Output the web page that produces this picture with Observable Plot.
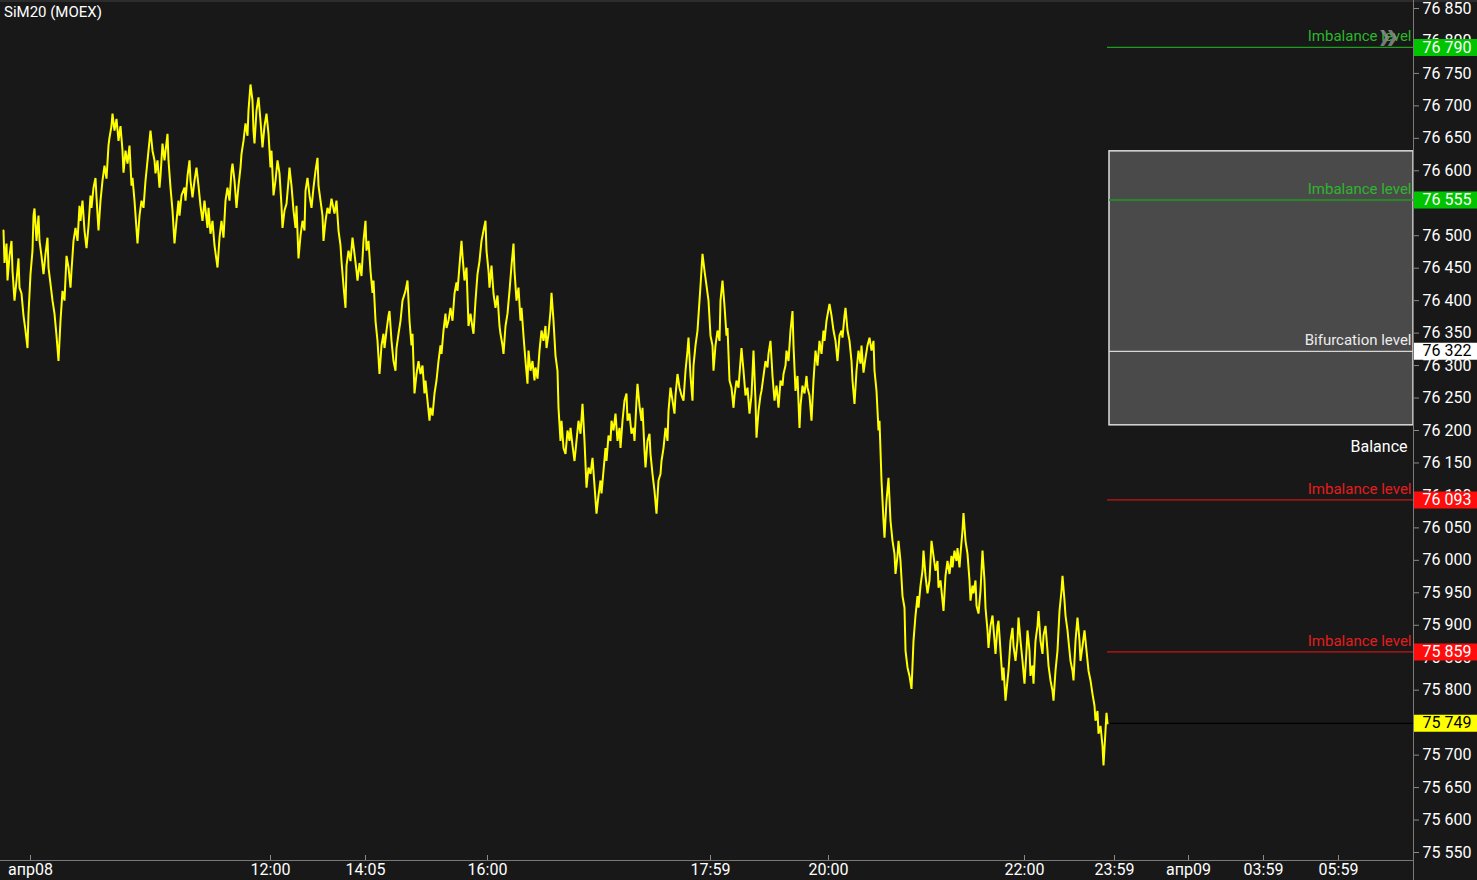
<!DOCTYPE html>
<html>
<head>
<meta charset="utf-8">
<script src="https://cdn.jsdelivr.net/npm/d3@7"></script>
<script src="https://cdn.jsdelivr.net/npm/@observablehq/plot@0.6"></script>
<style>
html, body { margin: 0; padding: 0; background: #181818; }
#wrap { position: relative; width: 1477px; height: 880px; overflow: hidden; background: #181818; font-family: Roboto, sans-serif; }
#title { position: absolute; left: 4px; top: 3px; color: #fff; font-size: 15px; font-family: Roboto, sans-serif; }
.topline { position: absolute; left: 0; top: 0; width: 1477px; height: 2px; background: #2c2c2c; }
.vline { position: absolute; left: 1413px; top: 0; width: 1px; height: 880px; background: #7a7a7a; }
.hline { position: absolute; left: 0; top: 860px; width: 1413px; height: 1px; background: #7a7a7a; }
</style>
</head>
<body>
<div id="wrap"><div id="chart"></div><div class="topline"></div><div class="vline"></div><div class="hline"></div><div id="title">SiM20 (MOEX)</div></div>
<script>
// ---- Data ----
const instrument = "SiM20 (MOEX)";

// price series: [bar index, price]
const priceSeries = [
[3,76508],[4,76458],[6,76488],[7,76431],[9,76469],[11,76492],[12,76446],[14,76400],[16,76431],[18,76465],[19,76420],[21,76411],[23,76377],[25,76354],[27,76327],[28,76380],[30,76441],[32,76477],[33,76531],[34,76542],[36,76492],[38,76531],[39,76492],[41,76469],[43,76441],[45,76472],[47,76497],[48,76451],[50,76426],[52,76400],[54,76380],[56,76346],[58,76307],[60,76369],[62,76415],[64,76400],[66,76469],[68,76451],[70,76420],[71,76446],[73,76492],[75,76512],[77,76492],[79,76546],[80,76523],[82,76554],[84,76508],[86,76481],[88,76515],[90,76562],[91,76543],[93,76574],[95,76589],[96,76559],[98,76508],[100,76554],[102,76585],[104,76608],[106,76588],[108,76639],[109,76651],[111,76669],[112,76688],
[114,76662],[116,76680],[118,76646],[120,76669],[122,76631],[123,76597],[125,76631],[127,76611],[129,76639],[131,76577],[132,76589],[134,76554],[137,76488],[139,76531],[141,76554],[143,76543],[145,76585],[146,76600],[148,76631],[150,76662],[152,76631],[154,76616],[155,76596],[157,76616],[159,76574],[160,76592],[162,76642],[164,76616],[167,76657],[168,76616],[170,76574],[172,76539],[174,76488],[176,76523],[178,76554],[179,76531],[181,76562],[184,76574],[185,76554],[187,76592],[189,76616],[190,76585],[192,76559],[194,76585],[196,76605],[198,76577],[200,76546],[202,76523],[204,76554],[207,76512],[208,76543],[210,76503],[212,76523],[214,76485],[217,76451],[219,76497],[221,76523],[223,76497],[225,76554],[227,76574],[229,76554],[231,76600],[232,76611],[234,76585],[236,76543],[238,76577],[240,76605],[241,76626],[243,76646],[245,76673],[247,76654],[248,76693],[250,76733],
[252,76708],[253,76662],[254,76642],[256,76693],[258,76713],[260,76677],[262,76636],[264,76669],[266,76688],[268,76657],[270,76605],[271,76631],[273,76562],[275,76585],[277,76616],[279,76596],[281,76546],[282,76512],[284,76539],[286,76549],[288,76585],[289,76605],[291,76577],[293,76539],[295,76512],[296,76546],[298,76465],[300,76500],[302,76523],[304,76508],[305,76569],[307,76589],[309,76562],[311,76543],[313,76574],[315,76600],[317,76620],[318,76577],[320,76554],[322,76531],[323,76492],[325,76523],[327,76543],[329,76534],[331,76557],[334,76534],[336,76554],[338,76508],[340,76485],[341,76461],[343,76423],[345,76389],[346,76454],[348,76477],[350,76461],[352,76497],[354,76472],[356,76446],[357,76431],[359,76458],[361,76438],[363,76492],[365,76523],[366,76477],[368,76492],[370,76446],[372,76412],[373,76431],[375,76369],[377,76338],[379,76287],[381,76331],[383,76349],[384,76327],[386,76354],[388,76377],[389,76384],[391,76338],[393,76307],[395,76292],[396,76327],[398,76349],[400,76369],
[402,76400],[405,76415],[407,76431],[409,76369],[411,76331],[412,76349],[414,76257],[416,76287],[418,76307],[420,76287],[422,76300],[424,76257],[425,76277],[427,76246],[429,76215],[430,76235],[432,76223],[434,76257],[436,76277],[438,76307],[440,76331],[441,76318],[443,76354],[445,76380],[446,76358],[448,76369],[450,76389],[452,76369],[454,76411],[456,76428],[457,76415],[459,76454],[461,76492],[462,76469],[464,76431],[466,76451],[468,76361],[470,76380],[472,76358],[473,76349],[475,76400],[477,76441],[479,76461],[481,76492],[483,76508],[485,76523],[486,76477],[488,76446],[489,76420],[491,76454],[493,76411],[495,76389],[497,76408],[499,76361],[500,76349],[502,76331],[503,76318],[505,76361],[507,76380],[509,76415],[511,76454],[513,76488],[514,76446],[516,76400],[518,76420],[520,76369],[521,76389],[523,76346],[525,76307],[527,76272],[528,76323],[530,76292],[532,76307],[534,76277],[535,76297],[537,76280],[539,76323],[541,76354],[543,76338],[545,76361],[546,76327],[548,76349],[550,76384],[551,76412],[553,76369],[555,76315],[557,76292],[558,76235],[560,76184],
[561,76215],[563,76173],[565,76164],[567,76200],[569,76184],[570,76204],[572,76177],[574,76153],[576,76184],[578,76215],[580,76195],[582,76241],[584,76184],[586,76112],[588,76143],[590,76133],[592,76158],[594,76115],[596,76072],[598,76100],[600,76123],[601,76103],[603,76138],[605,76173],[606,76153],[608,76192],[610,76184],[611,76215],[613,76200],[615,76226],[617,76184],[619,76204],[620,76173],[622,76215],[624,76246],[626,76257],[627,76215],[629,76226],[631,76195],[633,76204],[634,76184],[636,76246],[637,76272],[639,76238],[641,76215],[642,76235],[644,76169],[645,76143],[647,76184],[649,76195],[650,76164],[652,76133],[654,76107],[656,76072],[658,76123],[660,76133],[661,76153],[663,76173],[665,76204],[667,76184],[668,76230],[670,76266],[672,76246],[674,76226],[675,76254],[677,76287],[679,76266],[681,76254],[683,76246],[685,76292],[687,76323],[688,76343],[690,76284],[692,76246],[693,76300],[695,76331],[697,76354],[699,76400],[700,76423],
[702,76472],[704,76446],[706,76423],[708,76400],[710,76346],[712,76331],[713,76292],[715,76331],[717,76354],[719,76338],[720,76400],[722,76431],[724,76392],[726,76346],[727,76358],[729,76277],[731,76266],[733,76235],[734,76254],[736,76277],[738,76266],[740,76307],[741,76327],[743,76292],[745,76254],[747,76266],[749,76226],[751,76254],[753,76323],[755,76246],[756,76189],[758,76230],[760,76254],[761,76261],[763,76284],[765,76307],[767,76297],[768,76318],[770,76338],[772,76284],[774,76246],[776,76269],[778,76235],[780,76277],[782,76269],[783,76287],[785,76300],[786,76323],[788,76307],[790,76354],[792,76384],[793,76331],[795,76261],[797,76284],[799,76204],[800,76238],[802,76269],[804,76257],[806,76284],[807,76266],[809,76254],[811,76215],[813,76277],[815,76323],[817,76300],[819,76338],[821,76318],[823,76354],[824,76338],[826,76369],[829,76395],[831,76377],[833,76354],[835,76338],[837,76307],[839,76346],[841,76354],[842,76343],[844,76377],[845,76389],[847,76354],[849,76338],[851,76307],[852,76277],[854,76241],[856,76292],[858,76323],[860,76303],[861,76331],[863,76289],[865,76312],[867,76331],[869,76343],[871,76323],[873,76338],[874,76292],[876,76261],[878,76200],[879,76215],[881,76123],[883,76061],[884,76035],[886,76092],[888,76127],[890,76061],
[892,76030],[894,76010],[895,75979],[897,76007],[898,76030],[900,75999],[902,75945],[904,75927],[905,75861],[907,75835],[909,75822],[911,75802],[912,75838],[913,75876],[915,75915],[917,75945],[918,75927],[920,75961],[922,75984],[923,76015],[925,75976],[927,75949],[929,75969],[931,76030],[933,76007],[935,75984],[937,75999],[938,75958],[940,75969],[943,75922],[945,75976],[947,75999],[949,75979],[951,76007],[952,75989],[954,76015],[956,75999],[957,76019],[959,75989],[960,76010],[962,76046],[963,76073],[965,76030],[967,76010],[969,75969],[970,75938],[972,75961],[973,75949],[975,75969],[976,75930],[978,75918],[980,75953],[982,76015],[984,75969],[985,75927],[987,75892],[988,75865],[990,75899],[992,75915],[994,75876],[995,75856],[997,75899],[998,75907],[1000,75861],[1002,75815],[1003,75835],[1005,75784],[1007,75815],[1008,75830],[1010,75876],[1012,75896],[1013,75868],[1015,75845],[1017,75876],[1018,75912],[1020,75876],[1022,75845],[1024,75810],[1026,75861],[1027,75892],[1029,75861],[1030,75822],[1032,75838],[1033,75810],[1035,75876],[1037,75899],[1038,75922],[1040,75876],[1042,75856],[1043,75884],[1045,75899],[1047,75861],[1048,75838],[1050,75815],[1052,75799],[1053,75784],[1055,75830],[1057,75861],[1058,75892],[1059,75922],[1061,75953],[1062,75976],[1064,75938],[1065,75915],[1067,75892],[1068,75876],[1070,75845],[1072,75830],[1073,75815],[1075,75876],[1077,75912],[1079,75876],[1080,75845],[1082,75868],[1084,75892],[1086,75861],[1088,75830],[1090,75815],[1092,75794],[1094,75776],[1095,75753],[1097,75768],[1098,75733],[1100,75745],[1102,75714],[1103,75684],[1105,75738],[1106,75765],[1107,75749]
];

const levelValues = [76790, 76555, 76322, 76093, 75859];
const levelNames  = ["Imbalance level", "Imbalance level", "Bifurcation level", "Imbalance level", "Imbalance level"];
const levelKinds  = ["up", "up", "mid", "down", "down"];
const lastPrice = 75749;
const balanceTop = 76630;
const balanceBottom = 76208;
const balanceLabel = "Balance";

const yTicks = [75550, 75600, 75650, 75700, 75750, 75800, 75850, 75900, 75950, 76000, 76050, 76100, 76150, 76200, 76250, 76300, 76350, 76400, 76450, 76500, 76550, 76600, 76650, 76700, 76750, 76800, 76850];
const xTickBars   = [30, 270, 365, 487, 710, 828, 1024, 1114, 1188, 1263, 1338];
const xTickLabels = ["апр08", "12:00", "14:05", "16:00", "17:59", "20:00", "22:00", "23:59", "апр09", "03:59", "05:59"];
const xBarDomain = [0, 1413];
const yDomain = [75550, 76850];

// ---- Build ----
const fmt = d => d3.format(",")(d).replace(/,/g, " ");
const xLabelMap = new Map(xTickBars.map((b, i) => [b, xTickLabels[i]]));
const xEnd = xBarDomain[1];
const lastBar = priceSeries[priceSeries.length - 1][0];
const levels = levelValues.map((v, i) => ({value: v, name: levelNames[i], kind: levelKinds[i]}));
const lineColor  = {up: "#1e9e1e", mid: "#d6d6d6", down: "#c81515"};
const textColor  = {up: "#2db52d", mid: "#ececec", down: "#e41d1d"};
const badgeFill  = {up: "#00c400", mid: "#ffffff", down: "#ff0d0d", last: "#ffff00"};
const badgeInk   = {up: "#ffffff", mid: "#000000", down: "#ffffff", last: "#000000"};
const badges = [...levels.map(d => ({value: d.value, kind: d.kind})), {value: lastPrice, kind: "last"}];
const BADGE_W = 64;

const chart = Plot.plot({
  width: 1477,
  height: 880,
  marginLeft: 0,
  marginRight: 64,
  marginTop: 0,
  marginBottom: 20,
  style: {background: "#181818", color: "#ffffff", fontFamily: "Roboto, sans-serif"},
  x: {domain: xBarDomain, range: [0, 1413], axis: null},
  y: {domain: yDomain, range: [852, 8], axis: null},
  color: {type: "identity"},
  marks: [
    Plot.rect([{top: balanceTop, bottom: balanceBottom}], {
      x1: lastBar, x2: xEnd, y1: "bottom", y2: "top",
      fill: "#4a4a4a", stroke: "#dcdcdc", strokeWidth: 1.5, insetLeft: 2
    }),
    Plot.ruleY(levels, {y: "value", x1: d => (d.kind === "up" && d.value < balanceTop) || d.kind === "mid" ? lastBar + 2 : lastBar, x2: xEnd, stroke: d => lineColor[d.kind], strokeWidth: 1.3}),
    Plot.ruleY([lastPrice], {x1: lastBar + 3, x2: xEnd, stroke: "#000000", strokeWidth: 1.2}),
    Plot.line(priceSeries, {x: d => d[0], y: d => d[1], stroke: "#ffff00", strokeWidth: 2, strokeLinejoin: "miter"}),
    Plot.text(levels, {x: xEnd, y: "value", text: "name", textAnchor: "end", dx: -2, dy: -11, fill: d => textColor[d.kind], fontSize: 15}),
    Plot.text([balanceLabel], {x: xEnd, y: balanceBottom, text: d => d, textAnchor: "end", dx: -6, dy: 22, fill: "#ffffff", fontSize: 16}),
    Plot.text(["»"], {x: xEnd, y: levelValues[0], text: d => d, textAnchor: "middle", dx: -25, dy: -11, fill: "#8c8c8c", fillOpacity: 0.85, fontSize: 40, fontWeight: "bold"}),
    Plot.axisY(yTicks, {anchor: "right", tickSize: 5, tickPadding: 4, tickFormat: fmt, stroke: "#8a8a8a", fill: "#ffffff", fontSize: 16}),
    Plot.tickX(xTickBars, {x: d => d, stroke: "#8a8a8a", insetTop: 855}),
    Plot.axisX(xTickBars, {anchor: "bottom", tickSize: 0, tickPadding: 3, tickFormat: d => xLabelMap.get(d), fill: "#ffffff", fontSize: 16}),
    Plot.ruleY(badges, {y: "value", x1: xEnd + 1, x2: xEnd + BADGE_W, stroke: d => badgeFill[d.kind], strokeWidth: 17}),
    Plot.text(badges, {x: xEnd, y: "value", text: d => fmt(d.value), textAnchor: "start", dx: 9, fill: d => badgeInk[d.kind], fontSize: 16})
  ]
});
document.getElementById("chart").appendChild(chart);
</script>
</body>
</html>
